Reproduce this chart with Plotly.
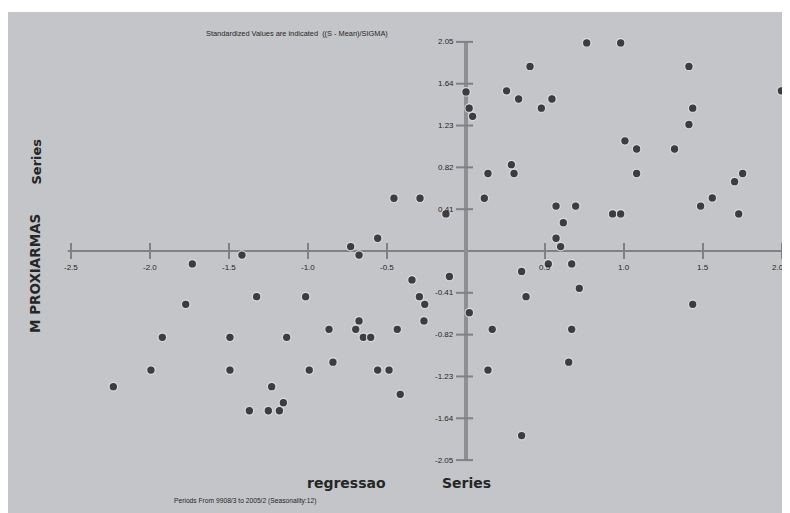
import plotly.graph_objects as go

# ---- data (standardized values) ----
regressao_series = [0.764, 0.979, 0.405, 1.411, 0.0, 0.257, 0.333, 0.544, 0.477, 0.02,
                    0.042, 1.435, 1.996, 1.411, 1.006, 1.08, 1.32, 0.287, 0.304, 0.139,
                    1.08, 1.751, 1.70, -0.456, -0.291, 0.116, 1.559, 1.485, 0.57, 0.694,
                    0.928, 0.979, 1.726, -0.127, 0.616, 0.57, 0.599, -0.559, -0.73,
                    -0.677, -1.418, -1.732, -1.325, -1.015, -1.774, -0.677, -0.867, -0.698,
                    -0.65, -0.603, -0.435, -1.922, -1.494, -1.135, -0.842, -1.994, -1.494,
                    -0.992, -0.559, -0.487, -2.232, -1.23, -1.156, -1.371, -1.251, -1.181,
                    -0.416, 0.521, 0.669, 0.352, -0.342, -0.105, 0.717, -0.295, 0.38,
                    -0.261, 1.435, 0.021, -0.266, 0.166, 0.669, 0.65, 0.139, 0.352]
mproxiarmas_series = [2.04, 2.04, 1.81, 1.81, 1.56, 1.57, 1.49, 1.49, 1.40, 1.40,
                      1.32, 1.40, 1.57, 1.24, 1.08, 1.00, 1.00, 0.846, 0.76, 0.76,
                      0.76, 0.76, 0.68, 0.517, 0.517, 0.517, 0.52, 0.44, 0.44, 0.44,
                      0.363, 0.363, 0.363, 0.363, 0.278, 0.125, 0.043, 0.125, 0.043,
                      -0.04, -0.04, -0.127, -0.448, -0.448, -0.523, -0.686, -0.768, -0.768,
                      -0.846, -0.846, -0.768, -0.846, -0.846, -0.846, -1.09, -1.167, -1.167,
                      -1.167, -1.167, -1.167, -1.33, -1.33, -1.487, -1.566, -1.566, -1.566,
                      -1.405, -0.127, -0.127, -0.2, -0.284, -0.25, -0.366, -0.448, -0.448,
                      -0.523, -0.523, -0.605, -0.686, -0.768, -0.768, -1.09, -1.167, -1.81]

x_ticks = [-2.5, -2.0, -1.5, -1.0, -0.5, 0.5, 1.0, 1.5, 2.0]
x_tick_labels = ["-2.5", "-2.0", "-1.5", "-1.0", "-0.5", "0.5", "1.0", "1.5", "2.0"]
y_ticks = [2.05, 1.64, 1.23, 0.82, 0.41, -0.41, -0.82, -1.23, -1.64, -2.05]
y_tick_labels = ["2.05", "1.64", "1.23", "0.82", "0.41", "-0.41", "-0.82", "-1.23", "-1.64", "-2.05"]

title_text = "Standardized Values are indicated  ((S - Mean)/SIGMA)"
footer_text = "Periods From 9908/3 to 2005/2 (Seasonality:12)"

BG = "#c4c5c9"
AX = "#808183"
TXT = "#262626"
small_font = dict(family="Liberation Sans, sans-serif", size=8, color=TXT)
bold_font = "DejaVu Sans, sans-serif"

# the page body adds an 8px offset; the figure covers the remaining 782x505 view
W, H = 782, 505
ML, MT = 0, 4
PW, PH = W - ML, H - MT


def px(page_x):
    return (page_x - 8 - ML) / PW


def py(page_y):
    return 1 - (page_y - 8 - MT) / PH


X0_PIX, X_SCALE = 458, 158   # figure-pixel of x=0, pixels per unit
Y0_PIX, Y_SCALE = 243, 102   # figure-pixel of y=0, pixels per unit

fig = go.Figure()
fig.add_trace(go.Scatter(
    x=regressao_series, y=mproxiarmas_series, mode="markers",
    marker=dict(size=8.5, color="#3d3d3f", line=dict(width=1.2, color="rgba(232,232,234,0.85)")),
    hoverinfo="x+y", showlegend=False))

shapes = []
shapes.append(dict(type="line", xref="x", yref="y", x0=-2.52, x1=2.01, y0=0, y1=0,
                   line=dict(color=AX, width=2), layer="below"))
shapes.append(dict(type="line", xref="x", yref="y", x0=0, x1=0, y0=y_ticks[0], y1=y_ticks[-1],
                   line=dict(color="#8e8f92", width=4), layer="below"))
for t in x_ticks:
    shapes.append(dict(type="line", xref="x", yref="y", ysizemode="pixel", yanchor=0,
                       x0=t, x1=t, y0=-8, y1=8, line=dict(color=AX, width=2), layer="below"))
for t in y_ticks:
    shapes.append(dict(type="line", xref="x", yref="y", xsizemode="pixel", xanchor=0,
                       y0=t, y1=t, x0=-10, x1=7, line=dict(color=AX, width=2), layer="below"))

annotations = []
for i, (t, lab) in enumerate(zip(x_ticks, x_tick_labels)):
    last = i == len(x_ticks) - 1
    annotations.append(dict(x=t, y=0, xref="x", yref="y", text=lab, showarrow=False,
                            yshift=-16, xshift=-4 if last else 0, font=small_font))
for t, lab in zip(y_ticks, y_tick_labels):
    annotations.append(dict(x=0, y=t, xref="x", yref="y", text=lab, showarrow=False,
                            xanchor="right", xshift=-10, font=small_font))

annotations += [
    dict(x=px(297), y=py(27), xref="paper", yref="paper", text=title_text, showarrow=False,
         font=dict(family="Liberation Sans, sans-serif", size=7.4, color=TXT)),
    dict(x=px(172), y=py(507), xref="paper", yref="paper", text=footer_text, showarrow=False,
         font=dict(family="Liberation Sans, sans-serif", size=6.7, color=TXT)),
    dict(x=px(346), y=py(493), xref="paper", yref="paper", text="<b>regressao</b>", showarrow=False,
         font=dict(family=bold_font, size=14, color=TXT)),
    dict(x=px(466), y=py(493), xref="paper", yref="paper", text="<b>Series</b>", showarrow=False,
         font=dict(family=bold_font, size=14, color=TXT)),
    dict(x=px(25), y=py(274), xref="paper", yref="paper", text="<b>M PROXIARMAS</b>", showarrow=False,
         textangle=-90, font=dict(family=bold_font, size=13.5, color=TXT)),
    dict(x=px(27), y=py(137), xref="paper", yref="paper", text="<b>Series</b>", showarrow=False,
         textangle=-90, font=dict(family=bold_font, size=13, color=TXT)),
]

fig.update_layout(
    width=W, height=H,
    margin=dict(l=ML, r=0, t=MT, b=0),
    paper_bgcolor="white", plot_bgcolor=BG,
    xaxis=dict(range=[(0 - X0_PIX) / X_SCALE, (PW - X0_PIX) / X_SCALE], visible=False, fixedrange=True),
    yaxis=dict(range=[(Y0_PIX - H) / Y_SCALE, (Y0_PIX - MT) / Y_SCALE], visible=False, fixedrange=True),
    shapes=shapes, annotations=annotations, showlegend=False,
)

fig.write_html("out.html")
